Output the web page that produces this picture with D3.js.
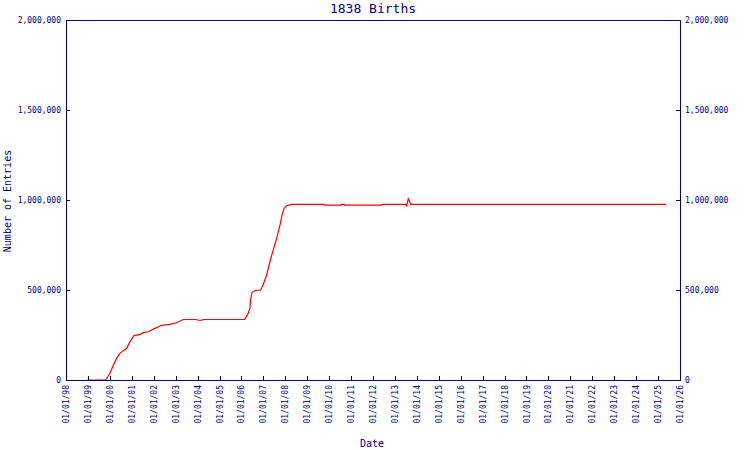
<!DOCTYPE html>
<html>
<head>
<meta charset="utf-8">
<script src="https://cdn.jsdelivr.net/npm/d3@7"></script>
<style>
  html, body { margin: 0; padding: 0; background: #fff; }
  svg { display: block; }
  text { font-family: "DejaVu Sans Mono", monospace; fill: #000080; }
</style>
</head>
<body>
<svg id="chart" width="750" height="450"></svg>
<script>
const title = "1838 Births";
const xTitle = "Date";
const yTitle = "Number of Entries";
const yTicks = [0, 500000, 1000000, 1500000, 2000000];
const xDomain = ["1998-01-01", "2026-01-01"];

const dates = [
  "1998-12-20", "1999-10-25", "2000-01-03", "2000-03-01", "2000-04-22", "2000-06-17",
  "2000-08-11", "2000-10-08", "2000-12-02", "2001-01-15", "2001-02-10", "2001-05-15",
  "2001-07-09", "2001-10-01", "2002-01-22", "2002-05-12", "2002-09-27", "2003-01-19",
  "2003-05-08", "2003-12-20", "2004-01-08", "2004-03-14", "2004-04-01", "2006-02-25",
  "2006-04-23", "2006-05-22", "2006-06-03", "2006-06-25", "2006-07-16", "2006-09-13",
  "2006-11-17", "2007-01-01", "2007-02-25", "2007-04-20", "2007-06-14", "2007-08-11",
  "2007-10-05", "2007-11-10", "2007-12-13", "2008-01-22", "2008-04-16", "2009-10-05",
  "2009-10-12", "2010-07-13", "2010-07-24", "2010-09-06", "2010-09-13", "2012-05-26",
  "2012-06-03", "2013-07-02", "2013-07-13", "2013-08-11", "2013-09-24", "2025-05-12"
];
const entries = [
  0, 0, 37000, 83000, 120000, 148000,
  163000, 176000, 213000, 235000, 248000, 252000,
  263000, 268000, 287000, 304000, 309000, 318000,
  336000, 336000, 332000, 332000, 336000, 337000,
  370000, 398000, 444000, 485000, 492000, 498000,
  500000, 532000, 583000, 657000, 722000, 787000,
  861000, 917000, 954000, 968000, 976000, 976000,
  971000, 971000, 976000, 976000, 971000, 971000,
  976000, 976000, 963000, 1006000, 976000, 976000
];

const parse = d3.utcParse("%Y-%m-%d");
const data = dates.map((d, i) => ({ date: parse(d), value: entries[i] }));

const m = { left: 66, right: 70, top: 20, bottom: 70 };
const W = 750, H = 450;
const svg = d3.select("#chart");
const navy = "#000080";

const x = d3.scaleUtc().domain(xDomain.map(parse)).range([m.left, W - m.right]);
const y = d3.scaleLinear().domain([0, 2000000]).range([H - m.bottom, m.top]);

// Line
svg.append("path")
  .datum(data)
  .attr("fill", "none")
  .attr("stroke", "#ff0000")
  .attr("stroke-width", 1.2)
  .attr("d", d3.line().x(d => x(d.date)).y(d => y(d.value)));

// Frame
svg.append("rect")
  .attr("x", m.left + 0.5).attr("y", m.top + 0.5)
  .attr("width", W - m.right - m.left).attr("height", H - m.bottom - m.top)
  .attr("fill", "none").attr("stroke", navy).attr("stroke-width", 1)
  .attr("shape-rendering", "crispEdges");

function styleAxis(g) {
  g.selectAll(".domain").attr("stroke", navy).attr("shape-rendering", "crispEdges");
  g.selectAll(".tick line").attr("stroke", navy).attr("shape-rendering", "crispEdges");
  g.selectAll(".tick text").attr("fill", navy)
    .style("font-family", "'DejaVu Sans Mono', monospace").style("font-size", "8px");
}

const fmt = d3.format(",");
svg.append("g")
  .attr("transform", `translate(${m.left},0)`)
  .call(d3.axisLeft(y).tickValues(yTicks).tickFormat(fmt).tickSize(-4).tickPadding(5))
  .call(styleAxis);

svg.append("g")
  .attr("transform", `translate(${W - m.right},0)`)
  .call(d3.axisRight(y).tickValues(yTicks).tickFormat(fmt).tickSize(-4).tickPadding(5))
  .call(styleAxis);

const xAxis = svg.append("g")
  .attr("transform", `translate(0,${H - m.bottom})`)
  .call(d3.axisBottom(x).ticks(d3.utcYear.every(1)).tickFormat(d3.utcFormat("%m/%d/%y")).tickSize(-4))
  .call(styleAxis);
xAxis.selectAll(".tick text")
  .attr("transform", "rotate(-90)")
  .attr("text-anchor", "end")
  .attr("x", -5)
  .attr("y", 0)
  .attr("dy", "0.32em");

// Titles
svg.append("text")
  .attr("x", 373).attr("y", 13)
  .attr("text-anchor", "middle")
  .style("font-size", "13px")
  .text(title);

svg.append("text")
  .attr("x", 372).attr("y", 447)
  .attr("text-anchor", "middle")
  .style("font-size", "10px")
  .text(xTitle);

svg.append("text")
  .attr("transform", "translate(11,201) rotate(-90)")
  .attr("text-anchor", "middle")
  .style("font-size", "10px")
  .text(yTitle);
</script>
</body>
</html>
